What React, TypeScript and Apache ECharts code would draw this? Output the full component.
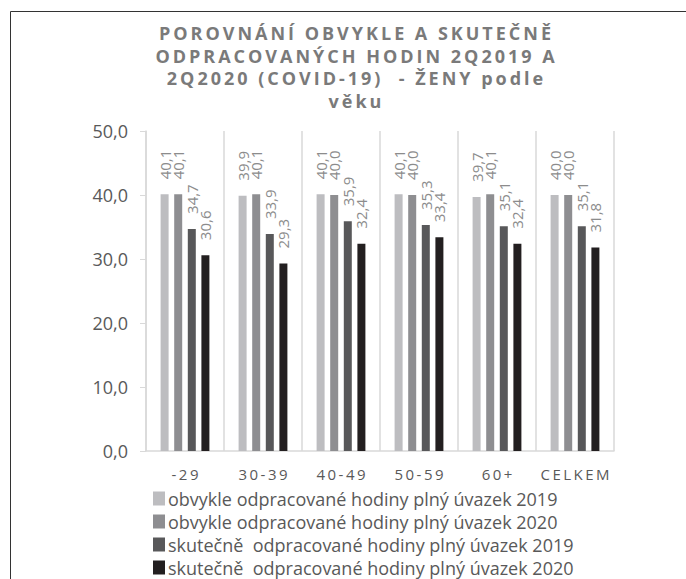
import React, { useEffect, useRef } from "react";
import * as echarts from "echarts";

const categories = ["-29", "30-39", "40-49", "50-59", "60+", "CELKEM"];
const seriesNames = [
  "obvykle odpracované hodiny plný úvazek 2019",
  "obvykle odpracované hodiny plný úvazek 2020",
  "skutečně  odpracované hodiny plný úvazek 2019",
  "skutečně  odpracované hodiny plný úvazek 2020",
];
const usual2019 = [40.1, 39.9, 40.1, 40.1, 39.7, 40.0];
const usual2020 = [40.1, 40.1, 40.0, 40.0, 40.1, 40.0];
const actual2019 = [34.7, 33.9, 35.9, 35.3, 35.1, 35.1];
const actual2020 = [30.6, 29.3, 32.4, 33.4, 32.4, 31.8];
const colors = ["#BDBDC0", "#8E8E91", "#58585A", "#231F20"];
const borders = ["#7a7a7d", "#5a5a5d", "#3a3a3c", "#111111"];
const titleLines = [
  "POROVNÁNÍ OBVYKLE A SKUTEČNĚ",
  "ODPRACOVANÝCH HODIN 2Q2019 A",
  "2Q2020 (COVID-19)  - ŽENY podle",
  "věku",
];

const spaced = (s: string, sep = "\u2009") => Array.from(s).join(sep);
const fmt = (v: number) => v.toFixed(1).replace(".", ",");

export default function App() {
  const ref = useRef<HTMLDivElement>(null);
  useEffect(() => {
    document.body.style.margin = "0";
    const chart = echarts.init(ref.current!, null, { renderer: "svg" });
    const data = [usual2019, usual2020, actual2019, actual2020];
    chart.setOption({
      animation: false,
      backgroundColor: "#ffffff",
      title: {
        text: titleLines.map((l) => spaced(l, "\u2009")).join("\n"),
        left: 350,
        top: 17,
        textAlign: "center",
        textStyle: {
          fontFamily: "Open Sans",
          fontSize: 18,
          fontWeight: "bold",
          color: "#7a7a7a",
          lineHeight: 22.5,
        },
      },
      graphic: [
        {
          type: "rect",
          shape: { x: 10.5, y: 11.5, width: 700, height: 600 },
          style: { fill: "none", stroke: "#333333", lineWidth: 1 },
          silent: true,
        },
      ],
      legend: {
        orient: "vertical",
        left: 148,
        top: 484,
        height: 120,
        itemGap: 4,
        itemWidth: 12,
        itemHeight: 14,
        icon: "rect",
        textStyle: {
          fontFamily: "Open Sans",
          fontSize: 18,
          lineHeight: 19,
          color: "#595959",
          padding: [0, 0, 0, -2],
        },
        data: seriesNames,
      },
      grid: { left: 146, right: 72, top: 131, bottom: 128 },
      xAxis: {
        type: "category",
        data: categories,
        axisLine: { lineStyle: { color: "#d9d9d9", width: 1.5 } },
        axisTick: { show: false },
        splitLine: { show: true, lineStyle: { color: "#d9d9d9", width: 1.5 } },
        axisLabel: {
          interval: 0,
          fontFamily: "Open Sans",
          fontSize: 15,
          color: "#595959",
          margin: 15,
          formatter: (v: string) => spaced(v, "\u2009"),
        },
      },
      yAxis: {
        type: "value",
        min: 0,
        max: 50,
        interval: 10,
        axisLine: { show: true, lineStyle: { color: "#d9d9d9", width: 1.5 } },
        axisTick: { show: true, length: 6, lineStyle: { color: "#d9d9d9" } },
        splitLine: { show: false },
        axisLabel: {
          fontFamily: "Open Sans",
          fontSize: 18,
          color: "#595959",
          margin: 18,
          formatter: (v: number) => fmt(v),
        },
      },
      series: seriesNames.map((name, i) => ({
        name,
        type: "bar",
        data: data[i],
        barWidth: 8,
        barGap: "70%",
        itemStyle: { color: colors[i], borderColor: borders[i], borderWidth: 0 },
        label: {
          show: true,
          position: "top",
          rotate: 90,
          align: "left",
          verticalAlign: "middle",
          distance: 15,
          fontFamily: "Open Sans",
          fontSize: 15,
          color: "#8c8c8c",
          formatter: (p: any) => fmt(p.value),
        },
      })),
    });
    return () => chart.dispose();
  }, []);
  return <div ref={ref} style={{ width: 686, height: 579 }} />;
}
